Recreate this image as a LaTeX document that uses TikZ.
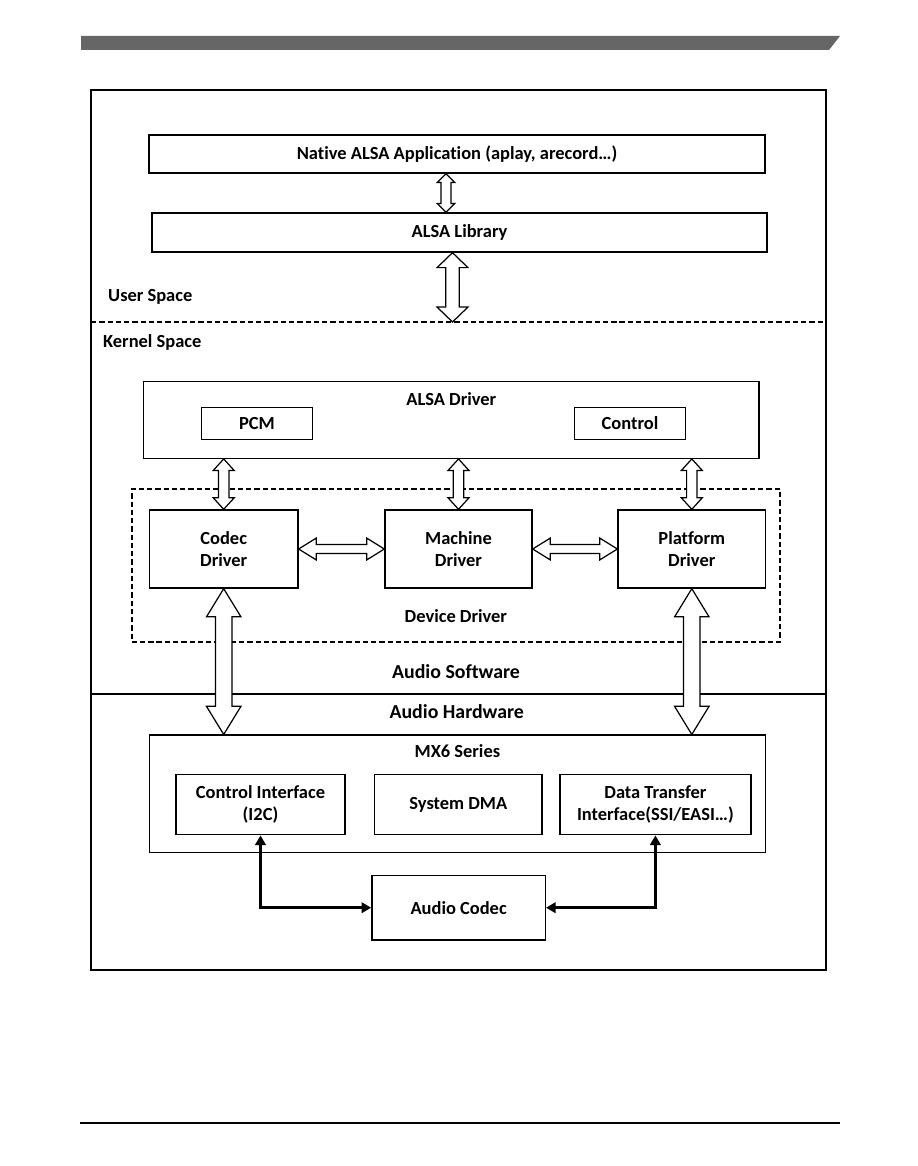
\documentclass[tikz,border=0pt]{standalone}
\usepackage{fontspec}
\setmainfont{Carlito}[Ligatures=NoCommon]
\usetikzlibrary{arrows.meta,positioning,calc}

\definecolor{barclr}{HTML}{666666}

\newcommand{\vhollow}[5]{%
  \draw[hollow] let \p1=#1, \p2=#2 in
    (\x1,\y1) -- (\x1+#4,\y1-#5) -- (\x1+#3,\y1-#5) -- (\x1+#3,\y2+#5)
    -- (\x1+#4,\y2+#5) -- (\x1,\y2) -- (\x1-#4,\y2+#5) -- (\x1-#3,\y2+#5)
    -- (\x1-#3,\y1-#5) -- (\x1-#4,\y1-#5) -- cycle;}
\newcommand{\hhollow}[5]{%
  \draw[hollow] let \p1=#1, \p2=#2 in
    (\x1,\y1) -- (\x1+#5,\y1+#4) -- (\x1+#5,\y1+#3) -- (\x2-#5,\y1+#3)
    -- (\x2-#5,\y1+#4) -- (\x2,\y1) -- (\x2-#5,\y1-#4) -- (\x2-#5,\y1-#3)
    -- (\x1+#5,\y1-#3) -- (\x1+#5,\y1-#4) -- cycle;}

\begin{document}
\begin{tikzpicture}[>={Triangle[length=5.5pt,width=6pt]}, x=0.02cm, y=-0.02cm]
        \tikzset{lbl/.style={font=\fontsize{10.5}{12.7}\selectfont\bfseries}, sect/.style={font=\fontsize{11.3}{13.5}\selectfont\bfseries}, box/.style={rectangle, draw, line width=0.8pt, align=center, lbl}, ddbox/.style={rectangle, draw, line width=1.1pt, dash pattern=on 3pt off 1.7pt}, hollow/.style={draw, fill=white, line width=0.7pt, line join=miter}, link/.style={line width=1.6pt, <->}}
        \useasboundingbox (0,0) rectangle (918,1166);
        \fill[barclr] (81,36) -- (840,36) -- (829,50) -- (81,50) -- cycle;
        \draw[line width=0.8pt] (80,1123) -- (840,1123);
        % frame and space dividers
        \draw[line width=0.8pt] (91,90) rectangle (826,970);
        \coordinate (ul) at (91,322);
        \coordinate (ur) at (826,322);
        \coordinate (hl) at (91,694);
        \coordinate (hr) at (826,694);
        \draw[ddbox] (ul) -- (ur);
        \draw[line width=1.2pt] (hl) -- (hr);
        % user space
        \node[box, minimum width=12.32cm, minimum height=0.76cm] (app) at (457,154) {Native ALSA Application (aplay, arecord…)};
        \node[box, minimum width=12.3cm, minimum height=0.78cm] (lib) at (459.5,232.5) {ALSA Library};
        \node[lbl, anchor=west] (user) at (102,297) {User Space};
        \node[lbl, anchor=west] (kernel) at (97,342) {Kernel Space};
        % kernel space
        \node[box, minimum width=12.31cm, minimum height=1.53cm] (drv) at (451.3,420) {};
        \node[lbl, below=0.1cm of drv.north] (drvtxt) {ALSA Driver};
        \node[box, minimum width=2.23cm, minimum height=0.63cm] (pcm) at (257,423.5) {PCM};
        \node[box, minimum width=2.23cm, minimum height=0.63cm] (ctl) at (630,423.5) {Control};
        \node[ddbox, minimum width=12.97cm, minimum height=3.05cm] (dd) at (455.9,565.4) {};
        \node[lbl, above=0.28cm of dd.south] (ddtxt) {Device Driver};
        \node[box, minimum width=2.97cm, minimum height=1.56cm] (codec) at (223.7,549) {Codec\\Driver};
        \node[box, minimum width=2.94cm, minimum height=1.56cm] (mach) at (458.5,549) {Machine\\Driver};
        \node[box, minimum width=2.95cm, minimum height=1.56cm] (plat) at (691.8,549) {Platform\\Driver};
        \node[sect] (soft) at (456,672) {Audio Software};
        % hardware
        \node[sect] (hard) at (456.7,711.7) {Audio Hardware};
        \node[box, minimum width=12.32cm, minimum height=2.35cm] (mx6) at (457.4,793.9) {};
        \node[lbl, below=0.07cm of mx6.north] (mx6txt) {MX6 Series};
        \node[box, minimum width=3.38cm, minimum height=1.2cm] (ci) at (260.5,804.7) {Control Interface\\(I2C)};
        \node[box, minimum width=3.35cm, minimum height=1.2cm] (dma) at (458.3,804.7) {System DMA};
        \node[box, minimum width=3.82cm, minimum height=1.2cm] (dti) at (655.4,804.7) {Data Transfer\\Interface(SSI/EASI…)};
        \node[box, minimum width=3.47cm, minimum height=1.29cm] (acodec) at (458.6,907.7) {Audio Codec};
        % connectors
        \vhollow{([xshift=-0.22cm]app.south)}{(lib.north)}{2.9pt}{5pt}{5pt}
        \vhollow{([xshift=-0.14cm]lib.south)}{(ul)}{3.8pt}{8.8pt}{8.5pt}
        \vhollow{(codec.north |- drv.south)}{(codec.north)}{2.95pt}{6pt}{6.6pt}
        \vhollow{(mach.north |- drv.south)}{(mach.north)}{2.95pt}{6pt}{6.6pt}
        \vhollow{(plat.north |- drv.south)}{(plat.north)}{2.95pt}{6pt}{6.6pt}
        \hhollow{(codec.east)}{(mach.west)}{2.6pt}{6.2pt}{10pt}
        \hhollow{(mach.east)}{(plat.west)}{2.6pt}{6.2pt}{10pt}
        \vhollow{(codec.south)}{(mx6.north)}{4.7pt}{9.8pt}{16pt}
        \vhollow{(plat.south)}{(mx6.north)}{4.7pt}{9.8pt}{16pt}
        \draw[link] (ci.south) |- (acodec.west);
        \draw[link] (dti.south) |- (acodec.east);
    \end{tikzpicture}
\end{document}
